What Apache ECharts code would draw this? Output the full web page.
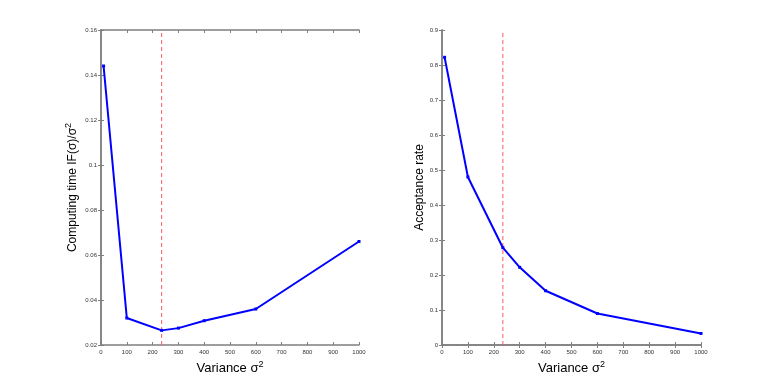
<!DOCTYPE html>
<html>
<head>
<meta charset="utf-8">
<script src="https://cdn.jsdelivr.net/npm/echarts@6/dist/echarts.min.js"></script>
<style>
  html, body { margin: 0; padding: 0; background: #fff; }
  #chart { width: 775px; height: 388px; }
</style>
</head>
<body>
<div id="chart"></div>
<script>
// variance sigma^2 values
var variance = [10, 100, 235, 300, 400, 600, 1000];
var computingTime = [0.144, 0.032, 0.0265, 0.0275, 0.0308, 0.036, 0.066];
var acceptRate = [0.822, 0.48, 0.278, 0.222, 0.155, 0.09, 0.033];
var optimalVariance = 235;
var leftRange = [0.02, 0.16];
var rightRange = [0, 0.9];

var axisGray = '#7f7f7f';
var tickFont = { fontSize: 6, color: '#333', fontFamily: 'Liberation Sans' };
var supStyle = { fontSize: 9, verticalAlign: 'top', padding: [0, 0, 8, 0], color: '#000' };

function pairs(xs, ys) {
    return xs.map(function (x, i) { return [x, ys[i]]; });
}
function trimNum(v) {
    return parseFloat(v.toFixed(3)).toString();
}

function xAxes(gridIndex) {
    var base = {
        gridIndex: gridIndex, type: 'value', min: 0, max: 1000, interval: 100,
        axisLine: { lineStyle: { color: axisGray, width: 1.5 } },
        axisTick: { inside: true, length: 3, lineStyle: { color: axisGray } },
        splitLine: { show: false }
    };
    return [
        Object.assign({}, base, {
            position: 'bottom',
            axisLabel: Object.assign({ margin: 4, formatter: trimNum }, tickFont),
            name: 'Variance σ{sup|2}',
            nameLocation: 'middle', nameGap: 12,
            nameTextStyle: {
                fontSize: 13, color: '#000', fontFamily: 'Liberation Sans',
                rich: { sup: supStyle }
            }
        }),
        Object.assign({}, base, { position: 'top', axisLabel: { show: false } })
    ];
}

function yAxes(gridIndex, range, interval, name, gap) {
    var base = {
        gridIndex: gridIndex, type: 'value', min: range[0], max: range[1], interval: interval,
        axisLine: { show: true, lineStyle: { color: axisGray, width: 1.5 } },
        axisTick: { show: true, inside: true, length: 3, lineStyle: { color: axisGray } },
        splitLine: { show: false }
    };
    return [
        Object.assign({}, base, {
            position: 'left',
            axisLabel: Object.assign({ margin: 4, formatter: trimNum }, tickFont),
            name: name,
            nameLocation: 'middle', nameGap: gap,
            nameTextStyle: {
                fontSize: 12, color: '#000', fontFamily: 'Liberation Sans',
                rich: { sup: supStyle }
            }
        }),
        Object.assign({}, base, { position: 'right', axisLabel: { show: false } })
    ];
}

function lineSeries(idx, ys) {
    return {
        type: 'line',
        xAxisIndex: idx * 2, yAxisIndex: idx * 2,
        data: pairs(variance, ys),
        symbol: 'rect', symbolSize: 3,
        lineStyle: { color: '#0000ff', width: 2 },
        itemStyle: { color: '#0000ff' },
        z: 3
    };
}

// dashed vertical marker at the optimal variance
function dashSeries(idx, range) {
    return {
        type: 'line',
        xAxisIndex: idx * 2, yAxisIndex: idx * 2,
        data: [[optimalVariance, range[0]], [optimalVariance, range[1]]],
        symbol: 'none', silent: true,
        lineStyle: { color: '#ff5a5a', type: [4, 3], width: 1 },
        z: 2
    };
}

var chart = echarts.init(document.getElementById('chart'));
chart.setOption({
    backgroundColor: '#fff',
    animation: false,
    grid: [
        { left: 101, right: 416, top: 30, bottom: 43 },
        { left: 442, right: 74, top: 30, bottom: 43 }
    ],
    xAxis: xAxes(0).concat(xAxes(1)),
    yAxis: yAxes(0, leftRange, 0.02, 'Computing time IF(σ)/σ{sup|2}', 20)
        .concat(yAxes(1, rightRange, 0.1, 'Acceptance rate', 14)),
    series: [
        dashSeries(0, leftRange), dashSeries(1, rightRange),
        lineSeries(0, computingTime), lineSeries(1, acceptRate)
    ]
});
</script>
</body>
</html>
